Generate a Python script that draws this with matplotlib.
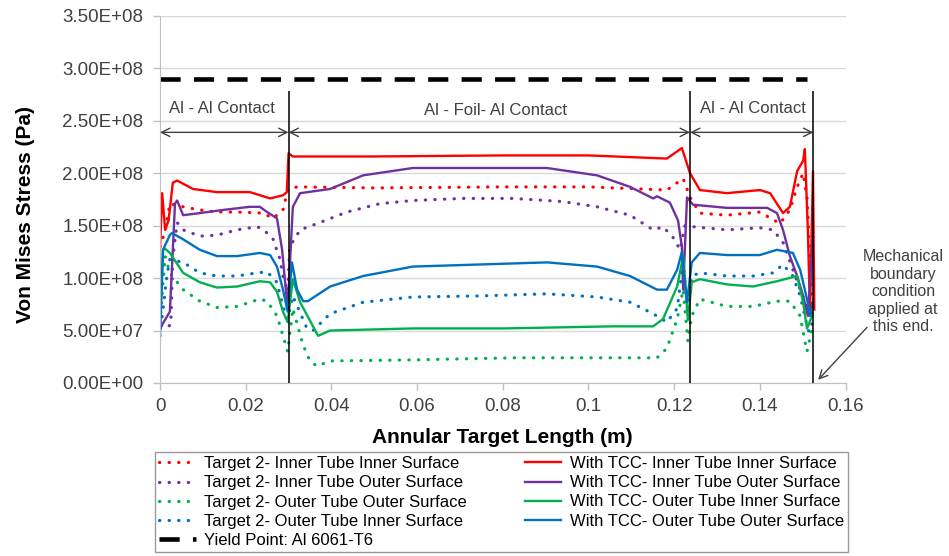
import matplotlib.pyplot as plt

plt.rcParams['font.family'] = ['Liberation Sans', 'DejaVu Sans']

# lengths in m, stresses in units of 1e8 Pa
t2_ii_x = [0.0000, 0.0012, 0.0023, 0.0054, 0.0093, 0.0133, 0.0180, 0.0240, 0.0264, 0.0287, 0.0298, 0.0320,
           0.0500, 0.0800, 0.1000, 0.1183, 0.1221, 0.1237, 0.1260, 0.1323, 0.1400, 0.1447, 0.1470, 0.1487,
           0.1501, 0.1510, 0.1517, 0.1522]
t2_ii_y = [1.30, 1.45, 1.71, 1.68, 1.65, 1.63, 1.63, 1.62, 1.57, 1.65, 1.84, 1.87,
           1.86, 1.87, 1.87, 1.84, 1.95, 1.77, 1.62, 1.60, 1.63, 1.52, 1.65, 1.87,
           2.00, 1.77, 1.15, 0.58]

t2_io_x = [0.0000, 0.0025, 0.0030, 0.0040, 0.0054, 0.0093, 0.0133, 0.0180, 0.0226, 0.0240, 0.0264, 0.0280,
           0.0287, 0.0298, 0.0303, 0.0327, 0.0373, 0.0436, 0.0513, 0.0590, 0.0707, 0.0824, 0.0940, 0.1020,
           0.1097, 0.1151, 0.1174, 0.1197, 0.1214, 0.1225, 0.1244, 0.1323, 0.1400, 0.1431, 0.1454, 0.1477,
           0.1494, 0.1510, 0.1522]
t2_io_y = [0.52, 0.55, 1.20, 1.53, 1.46, 1.40, 1.41, 1.46, 1.49, 1.47, 1.37, 1.18,
           1.02, 0.87, 1.30, 1.46, 1.53, 1.63, 1.71, 1.74, 1.76, 1.76, 1.73, 1.68,
           1.60, 1.46, 1.49, 1.39, 1.27, 1.50, 1.49, 1.46, 1.48, 1.46, 1.34, 1.08,
           0.89, 0.73, 0.55]

t2_oo_x = [0.0000, 0.0012, 0.0023, 0.0054, 0.0093, 0.0133, 0.0180, 0.0233, 0.0250, 0.0273, 0.0287, 0.0298,
           0.0310, 0.0334, 0.0350, 0.0366, 0.0397, 0.0590, 0.0824, 0.1057, 0.1160, 0.1183, 0.1207, 0.1221,
           0.1232, 0.1241, 0.1260, 0.1323, 0.1384, 0.1440, 0.1470, 0.1494, 0.1505, 0.1510, 0.1522]
t2_oo_y = [0.58, 1.21, 1.05, 0.89, 0.78, 0.72, 0.73, 0.80, 0.78, 0.64, 0.45, 0.30,
           0.71, 0.36, 0.21, 0.16, 0.21, 0.22, 0.24, 0.24, 0.24, 0.33, 0.61, 0.89,
           0.40, 0.64, 0.80, 0.73, 0.73, 0.78, 0.78, 0.64, 0.40, 0.30, 0.52]

t2_oi_x = [0.0000, 0.0016, 0.0023, 0.0054, 0.0093, 0.0133, 0.0180, 0.0226, 0.0250, 0.0273, 0.0287, 0.0298,
           0.0310, 0.0343, 0.0357, 0.0397, 0.0474, 0.0590, 0.0747, 0.0903, 0.1020, 0.1097, 0.1151, 0.1183,
           0.1207, 0.1221, 0.1232, 0.1241, 0.1260, 0.1323, 0.1384, 0.1431, 0.1454, 0.1477, 0.1494, 0.1510,
           0.1517]
t2_oi_y = [0.45, 1.02, 1.18, 1.15, 1.05, 1.02, 1.02, 1.05, 1.06, 0.96, 0.73, 0.61,
           0.83, 0.52, 0.50, 0.66, 0.77, 0.82, 0.83, 0.85, 0.82, 0.77, 0.66, 0.58,
           0.71, 1.15, 0.70, 1.02, 1.05, 1.02, 1.02, 1.05, 1.13, 1.02, 0.83, 0.55,
           0.45]

tcc_ii_x = [0.0000, 0.0005, 0.0012, 0.0020, 0.0030, 0.0040, 0.0077, 0.0133, 0.0210, 0.0257, 0.0287, 0.0296,
            0.0300, 0.0310, 0.0500, 0.0800, 0.1000, 0.1183, 0.1218, 0.1237, 0.1260, 0.1323, 0.1400, 0.1424,
            0.1454, 0.1470, 0.1487, 0.1501, 0.1505, 0.1512, 0.1517, 0.1524, 0.1527]
tcc_ii_y = [1.27, 1.81, 1.46, 1.55, 1.91, 1.93, 1.85, 1.82, 1.82, 1.76, 1.79, 1.82,
            2.19, 2.16, 2.16, 2.17, 2.17, 2.14, 2.24, 2.00, 1.84, 1.81, 1.84, 1.81,
            1.62, 1.68, 2.02, 2.12, 2.23, 1.46, 0.68, 2.02, 0.70]

tcc_io_x = [0.0000, 0.0023, 0.0035, 0.0040, 0.0054, 0.0093, 0.0147, 0.0210, 0.0233, 0.0250, 0.0273, 0.0285,
            0.0292, 0.0298, 0.0310, 0.0327, 0.0397, 0.0474, 0.0590, 0.0747, 0.0903, 0.1020, 0.1097, 0.1151,
            0.1160, 0.1190, 0.1209, 0.1218, 0.1221, 0.1230, 0.1244, 0.1323, 0.1417, 0.1440, 0.1454, 0.1470,
            0.1487, 0.1501, 0.1512, 0.1524]
tcc_io_y = [0.52, 0.68, 1.71, 1.74, 1.60, 1.62, 1.65, 1.68, 1.68, 1.63, 1.57, 1.27,
            0.96, 0.71, 1.68, 1.81, 1.85, 1.98, 2.05, 2.05, 2.05, 1.98, 1.87, 1.76,
            1.78, 1.72, 1.55, 1.30, 0.89, 1.77, 1.70, 1.67, 1.67, 1.62, 1.46, 1.21,
            1.02, 0.83, 0.64, 1.39]

tcc_oi_x = [0.0000, 0.0007, 0.0012, 0.0023, 0.0054, 0.0093, 0.0133, 0.0180, 0.0233, 0.0257, 0.0273, 0.0287,
            0.0298, 0.0310, 0.0327, 0.0369, 0.0397, 0.0590, 0.0800, 0.1057, 0.1151, 0.1174, 0.1207, 0.1221,
            0.1232, 0.1241, 0.1260, 0.1323, 0.1384, 0.1440, 0.1487, 0.1501, 0.1510, 0.1522]
tcc_oi_y = [0.58, 1.27, 1.28, 1.24, 1.05, 0.96, 0.91, 0.92, 0.97, 0.96, 0.87, 0.68,
            0.58, 0.99, 0.77, 0.45, 0.50, 0.52, 0.52, 0.54, 0.54, 0.61, 0.92, 1.21,
            0.60, 0.96, 0.99, 0.94, 0.92, 0.97, 1.02, 0.77, 0.52, 0.64]

tcc_oo_x = [0.0000, 0.0007, 0.0023, 0.0028, 0.0054, 0.0093, 0.0133, 0.0180, 0.0233, 0.0257, 0.0273, 0.0287,
            0.0298, 0.0308, 0.0320, 0.0334, 0.0345, 0.0397, 0.0474, 0.0590, 0.0747, 0.0903, 0.1020, 0.1097,
            0.1160, 0.1183, 0.1207, 0.1218, 0.1230, 0.1241, 0.1260, 0.1323, 0.1400, 0.1440, 0.1477, 0.1494,
            0.1510, 0.1517, 0.1524]
tcc_oo_y = [0.45, 1.27, 1.41, 1.43, 1.37, 1.27, 1.21, 1.21, 1.24, 1.22, 1.11, 0.89,
            0.68, 1.15, 0.89, 0.78, 0.78, 0.92, 1.02, 1.11, 1.13, 1.15, 1.11, 1.02,
            0.89, 0.89, 1.08, 1.25, 0.77, 1.15, 1.24, 1.22, 1.22, 1.27, 1.24, 1.08,
            0.80, 0.64, 0.77]

yield_stress = 2.9  # Al 6061-T6
yield_end = 0.151

# region boundaries and labels
bounds = [0.0, 0.030, 0.1237, 0.1525]
region_names = ['Al - Al Contact', 'Al - Foil- Al Contact', 'Al - Al Contact']
region_label_x = [0.0145, 0.0782, 0.1384]
region_label_y = [2.62, 2.60, 2.62]
arrow_y = 2.39
bound_top = 2.78

y_ticks = [0, 0.5e8, 1.0e8, 1.5e8, 2.0e8, 2.5e8, 3.0e8, 3.5e8]
x_ticks = [0, 0.02, 0.04, 0.06, 0.08, 0.10, 0.12, 0.14, 0.16]
x_ticklabels = ['0', '0.02', '0.04', '0.06', '0.08', '0.1', '0.12', '0.14', '0.16']

RED, PURPLE, GREEN, BLUE = '#FF0000', '#7030A0', '#00B050', '#0070C0'
TXT = '#404040'


def pa(vals):
    return [v * 1e8 for v in vals]


fig = plt.figure(figsize=(9.49, 5.56), dpi=100)
ax = fig.add_axes([0.1686, 0.3112, 0.7224, 0.6601])

dot = dict(linestyle=(0, (0.1, 2.9)), dash_capstyle='round', lw=2.3)
solid = dict(linestyle='-', lw=1.7)

h1, = ax.plot(t2_ii_x, pa(t2_ii_y), color=RED, **dot)
h2, = ax.plot(t2_io_x, pa(t2_io_y), color=PURPLE, **dot)
h3, = ax.plot(t2_oo_x, pa(t2_oo_y), color=GREEN, **dot)
h4, = ax.plot(t2_oi_x, pa(t2_oi_y), color=BLUE, **dot)
h6, = ax.plot(tcc_ii_x, pa(tcc_ii_y), color=RED, **solid)
h7, = ax.plot(tcc_io_x, pa(tcc_io_y), color=PURPLE, **solid)
h8, = ax.plot(tcc_oi_x, pa(tcc_oi_y), color=GREEN, **solid)
h9, = ax.plot(tcc_oo_x, pa(tcc_oo_y), color=BLUE, **solid)
h5, = ax.plot([0, yield_end], pa([yield_stress, yield_stress]), color='black',
              lw=3.3, linestyle=(0, (4.4, 2.9)), dash_capstyle='butt')

# region markers
ax.vlines(bounds[1:], 0, bound_top * 1e8, color='black', lw=1.1, zorder=4)
for i in range(3):
    ax.annotate('', xy=(bounds[i], arrow_y * 1e8), xytext=(bounds[i + 1], arrow_y * 1e8),
                arrowprops=dict(arrowstyle='<->,head_length=0.6,head_width=0.3', color=TXT, lw=1,
                                shrinkA=0, shrinkB=0))
    ax.text(region_label_x[i], region_label_y[i] * 1e8, region_names[i], ha='center', va='center',
            fontsize=12, color=TXT)

ax.annotate('', xy=(0.1536, 0.03e8), xytext=(0.1650, 0.53e8), annotation_clip=False,
            arrowprops=dict(arrowstyle='->,head_length=0.6,head_width=0.3', color=TXT, lw=1,
                            shrinkA=0, shrinkB=0))
ax.text(0.1734, 0.87e8, 'Mechanical\nboundary\ncondition\napplied at\nthis end.', ha='center', va='center',
        fontsize=11.5, color=TXT, linespacing=1.2, clip_on=False)

ax.set_xlim(0, 0.16)
ax.set_ylim(0, 3.5e8)
ax.set_yticks(y_ticks)
ax.set_yticklabels(['{:.2E}'.format(v) for v in y_ticks])
ax.set_xticks(x_ticks)
ax.set_xticklabels(x_ticklabels)
ax.tick_params(axis='both', labelsize=13.5, labelcolor=TXT, color='#BFBFBF', length=5, width=1)
ax.tick_params(axis='y', pad=7)
ax.tick_params(axis='x', pad=6)
ax.grid(axis='y', color='#D9D9D9', lw=1)
ax.set_axisbelow(True)
for s in ['top', 'right']:
    ax.spines[s].set_visible(False)
for s in ['left', 'bottom']:
    ax.spines[s].set_color('#BFBFBF')

ax.set_xlabel('Annular Target Length (m)', fontsize=15, fontweight='bold')
ax.set_ylabel('Von Mises Stress (Pa)', fontsize=15, fontweight='bold')
ax.xaxis.set_label_coords(0.5, -0.123)
ax.yaxis.set_label_coords(-0.182, 0.46)

handles = [h1, h2, h3, h4, h5, h6, h7, h8, h9]
labels = ['Target 2- Inner Tube Inner Surface', 'Target 2- Inner Tube Outer Surface',
          'Target 2- Outer Tube Outer Surface', 'Target 2- Outer Tube Inner Surface',
          'Yield Point: Al 6061-T6',
          'With TCC- Inner Tube Inner Surface', 'With TCC- Inner Tube Outer Surface',
          'With TCC- Outer Tube Inner Surface', 'With TCC- Outer Tube Outer Surface']
leg = fig.legend(handles, labels, ncol=2, loc='upper left', mode='expand',
                 bbox_to_anchor=(155 / 949, 0, 693 / 949, 1 - 452 / 556),
                 fontsize=12, frameon=True, fancybox=False, edgecolor='#808080', handlelength=2.2,
                 handletextpad=0.5, columnspacing=2.6, labelspacing=0.25, borderpad=0.25,
                 borderaxespad=0)
leg.get_frame().set_linewidth(1)

fig.savefig('out.png', dpi=100)
